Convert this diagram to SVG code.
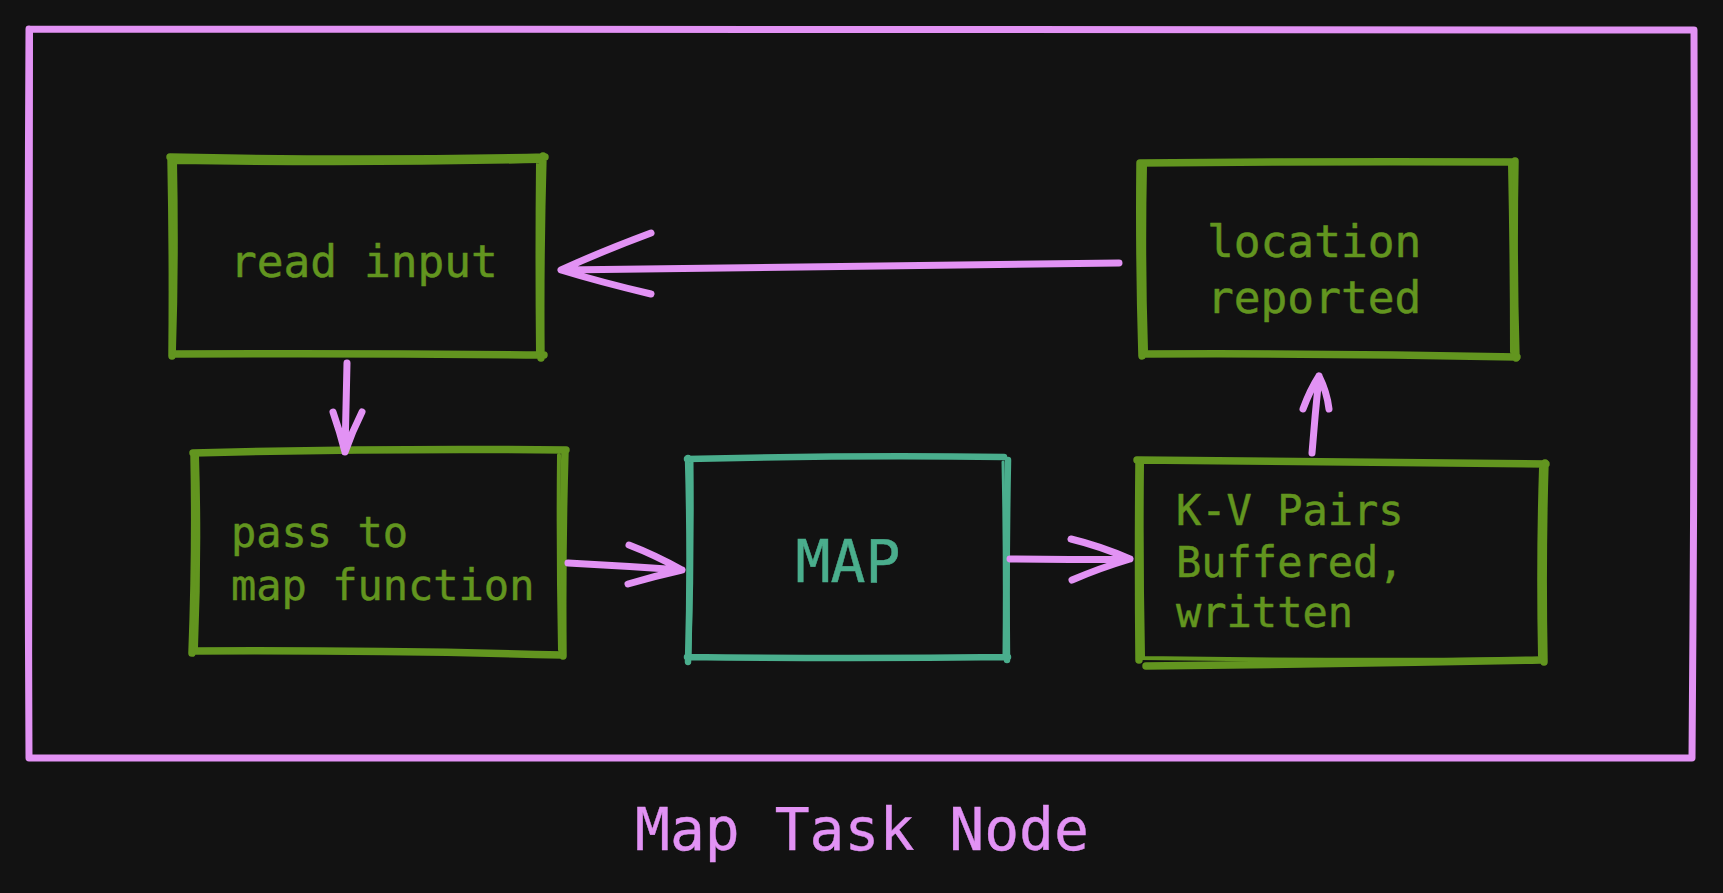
<svg xmlns="http://www.w3.org/2000/svg" width="1723" height="893" viewBox="0 0 1723 893">
<style>
.g{fill:none;stroke:#62951f;stroke-width:7.5;stroke-linecap:round;stroke-linejoin:round}
.g2{fill:none;stroke:#62951f;stroke-width:4;stroke-linecap:round}
.t{fill:none;stroke:#4aae8d;stroke-width:6.5;stroke-linecap:round;stroke-linejoin:round}
.p{fill:none;stroke:#e292f4;stroke-width:7;stroke-linecap:round;stroke-linejoin:round}
.txt{font-family:"DejaVu Sans Mono","Liberation Mono",monospace;font-size:44.5px;fill:#62951f;stroke:#62951f;stroke-width:0.5}
.sm{font-size:42px}
</style>
<rect width="1723" height="893" fill="#121212"/>
<g id="frame">
<path class="p" d="M29 29 Q860 31 1694 30 Q1695 400 1692 758 Q860 757 29 758 Q27 400 29 29" stroke-width="5.5"/>
<path d="M31 32 L30 756" fill="none" stroke="#e292f4" stroke-width="4" stroke-linecap="round"/>
</g>
<g id="read-input">
<path class="g" d="M170 157 Q360 161 545 157 M543 156 Q540 260 541 358 M544 355 Q360 353 172 354 M172 356 Q173 260 171 158"/>
<path class="g2" d="M176 162 Q360 165 540 161 M538 162 Q537 260 538 352 M175 160 Q177 260 174 350"/>
<text class="txt" x="230" y="277">read input</text>
</g>
<g id="location-reported">
<path class="g" d="M1140 163 Q1330 161 1515 162 M1515 161 Q1513 260 1516 358 M1517 357 Q1330 353 1142 354 M1142 356 Q1139 260 1140 163"/>
<path class="g2" d="M1145 166 Q1143 260 1146 350 M1510 165 Q1512 260 1512 352"/>
<text class="txt" x="1207" y="257">location</text>
<text class="txt" x="1207" y="313">reported</text>
</g>
<g id="pass-to">
<path class="g" d="M193 453 Q380 448 566 450 M565 451 Q562 550 563 656 M563 655 Q380 650 193 651 M192 653 Q196 550 194 455"/>
<path class="g2" d="M197 456 Q200 550 196 648 M559 455 Q558 550 560 650 M196 650 L230 650"/>
<text class="txt sm" x="231" y="547">pass to</text>
<text class="txt sm" x="231" y="600">map function</text>
</g>
<g id="map">
<path class="t" d="M687 459 Q850 455 1004 457 M1008 460 Q1006 560 1007 660 M1008 657 Q850 659 687 657 M688 662 Q691 560 688 458"/>
<path d="M692 460 Q693 560 690 656 M1003 462 Q1005 560 1004 655" fill="none" stroke="#4aae8d" stroke-width="3" stroke-linecap="round"/>
<text x="848" y="582" text-anchor="middle" font-family="DejaVu Sans Mono, Liberation Mono, monospace" font-size="58" fill="#4aae8d" stroke="#4aae8d" stroke-width="0.5">MAP</text>
</g>
<g id="kv-pairs">
<path class="g" d="M1137 460 Q1340 462 1546 464 M1545 463 Q1542 560 1544 662 M1540 660 Q1340 664 1146 666 M1139 660 Q1138 560 1139 461"/>
<path class="g2" d="M1142 462 L1165 462 M1142 464 Q1141 560 1143 656 M1541 468 Q1538 560 1540 656 M1141 658 Q1340 661 1540 659"/>
<text class="txt sm" x="1176" y="525">K-V Pairs</text>
<text class="txt sm" x="1176" y="577">Buffered,</text>
<text class="txt sm" x="1176" y="627">written</text>
</g>
<g id="connectors">
<path class="p" d="M1119 263 Q840 266 562 270 M651 233 Q600 252 561 270 Q600 282 651 294"/>
<path class="p" d="M347 363 Q346 405 345 452 M333 412 Q340 432 345 452 Q352 432 362 412"/>
<path class="p" d="M568 563 Q625 566 682 570 M629 545 Q655 555 682 570 Q655 576 628 584"/>
<path class="p" d="M1010 559 Q1070 560 1130 559 M1071 539 Q1100 546 1130 559 Q1100 568 1072 580"/>
<path class="p" d="M1312 453 Q1315 415 1319 376 M1303 409 Q1310 390 1319 376 Q1327 392 1329 409"/>
</g>
<g id="title">
<text x="862" y="850" text-anchor="middle" font-family="DejaVu Sans Mono, Liberation Mono, monospace" font-size="58" fill="#e292f4" stroke="#e292f4" stroke-width="0.4">Map Task Node</text>
</g>
</svg>
